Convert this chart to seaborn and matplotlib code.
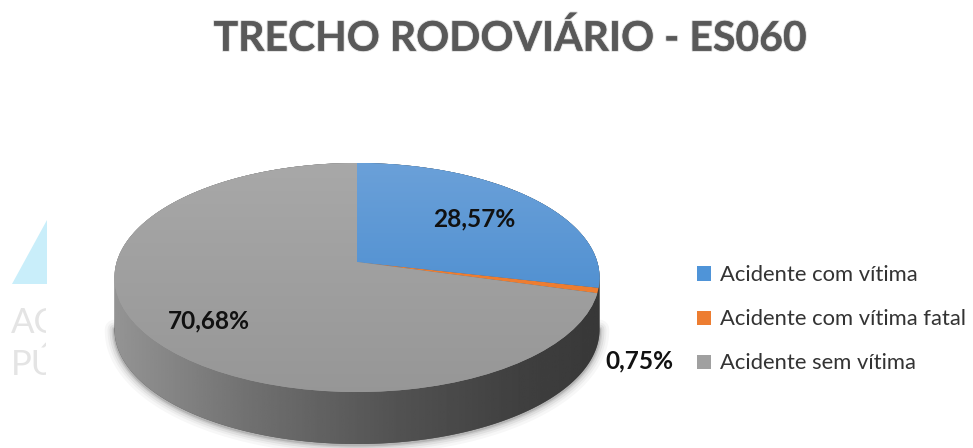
import numpy as np
import matplotlib
matplotlib.use('Agg')
import matplotlib.pyplot as plt
import matplotlib.patheffects as pe
from matplotlib.patches import Polygon
from matplotlib.transforms import Transform, Bbox
import seaborn as sns

title = 'TRECHO RODOVIÁRIO - ES060'
categories = ['Acidente com vítima', 'Acidente com vítima fatal', 'Acidente sem vítima']
shares = [28.57, 0.75, 70.68]
share_labels = ['28,57%', '0,75%', '70,68%']
colors = ['#4f94d8', '#ed7d31', '#a0a0a0']

sns.set_theme(style='white')
plt.rcParams['font.family'] = ['Lato', 'DejaVu Sans']


# squashes the unit circle into the tilted pie seen in the picture
class Tilt(Transform):
    input_dims = output_dims = 2

    def __init__(self, dy=0):
        super().__init__()
        self.dy = dy

    def transform_non_affine(self, xy):
        xy = np.asarray(xy)
        w = 1 + 0.1354 * xy[:, 1]
        return np.column_stack([357 + 240.3 * xy[:, 0] / w,
                                262 - 112.4 * xy[:, 1] / w + self.dy])


fig, ax = plt.subplots(figsize=(9.73, 4.48), dpi=100)
fig.subplots_adjust(0, 0, 1, 1)

wedges, _ = ax.pie(shares, colors=colors, startangle=90, counterclock=False)
tilt = Tilt()
for w in wedges:
    w.set_transform(tilt + ax.transData)
    w.set_zorder(5)
    w.set_linewidth(0)

ax.set_aspect('auto')
ax.set_xlim(0, 973)
ax.set_ylim(448, 0)
ax.axis('off')

# side of the cylinder
depth = 52
ang_low = np.linspace(np.pi * 1.04, np.pi * 1.96, 120)
ang_up = np.linspace(np.pi * 1.96, np.pi * 3.04, 120)
low = Tilt(depth).transform_non_affine(np.column_stack([np.cos(ang_low), np.sin(ang_low)]))
up = tilt.transform_non_affine(np.column_stack([np.cos(ang_up), np.sin(ang_up)]))
side_xy = np.vstack([low, up])

for lw, a in [(14, 0.03), (10, 0.04), (7, 0.06), (4, 0.08), (2, 0.12)]:
    ax.plot(low[:, 0], low[:, 1] + 1, color='black', lw=lw, alpha=a, zorder=1,
            solid_capstyle='round')

side = Polygon(side_xy, closed=True, fc='#555555', ec='none', zorder=2)
ax.add_patch(side)
xs = np.linspace(115, 600, 256)
grad = np.interp(xs, [115, 250, 400, 520, 600], [0.58, 0.44, 0.32, 0.25, 0.22])
im = ax.imshow(grad[None, :], extent=(115, 600, 448, 160), cmap='gray', vmin=0, vmax=1,
               aspect='auto', zorder=3)
im.set_clip_path(side)

# soft vertical shading on the top of the pie
shade = np.linspace(0, 1, 128)[:, None]
blue_rgb = np.array([[0.42, 0.63, 0.85]]) * (1 - shade) + np.array([[0.24, 0.52, 0.80]]) * shade
grey_rgb = np.array([[0.66, 0.66, 0.66]]) * (1 - shade) + np.array([[0.59, 0.59, 0.59]]) * shade
for w, rgb in [(wedges[0], blue_rgb), (wedges[2], grey_rgb)]:
    img = ax.imshow(rgb[:, None, :], extent=(110, 605, 395, 160), aspect='auto', zorder=6)
    img.set_clip_path(w)
ax.set_xlim(0, 973)
ax.set_ylim(448, 0)

label_xy = [(474, 219), (639, 361), (209, 321)]
for txt, (x, y) in zip(share_labels, label_xy):
    ax.text(x, y, txt, ha='center', va='center', fontsize=17.6, fontweight='bold',
            color='#111111', zorder=8)

ax.text(510, 39, title, ha='center', va='center', fontsize=29.5, fontweight='bold',
        color='#595959', path_effects=[pe.withStroke(linewidth=1.5, foreground='#dddddd'), pe.Normal()])

leg = ax.legend(wedges, categories, loc='upper left', bbox_to_anchor=(0.7165, 0.408),
                frameon=False, fontsize=15.8, labelspacing=1.1, handlelength=0.62,
                handleheight=0.62, handletextpad=0.4, borderpad=0, borderaxespad=0)
for t in leg.get_texts():
    t.set_color('#333333')

# washed out logo behind the chart, cut off at the left
ax.add_patch(Polygon([(12, 284), (47, 284), (47, 220)], closed=True, fc='#c9eefa', ec='none', zorder=0))
for txt, y in [('AC', 323), ('PÚ', 365)]:
    t = ax.text(11, y, txt, fontsize=25, color='#e4e4e4', va='center', ha='left', zorder=0)
    t.set_clip_on(True)
    # figure is 448 px high, clip box is in display pixels
    t.set_clip_box(Bbox([[0, 0], [46, 448]]))

fig.savefig('out.png', dpi=100)
